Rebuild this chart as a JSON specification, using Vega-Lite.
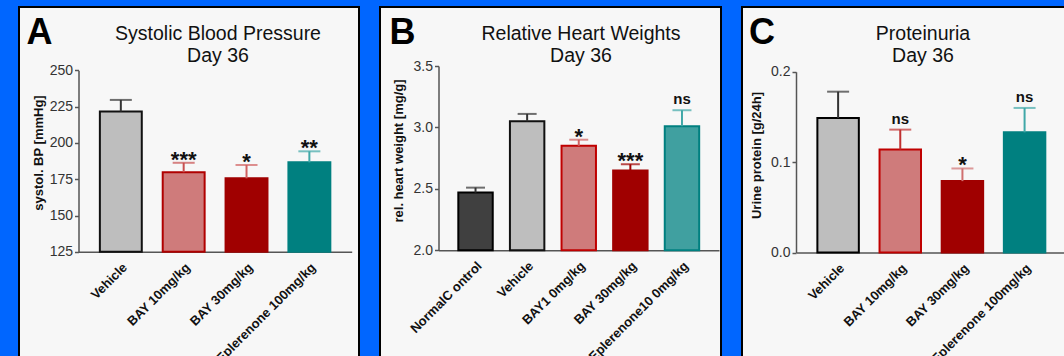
{
  "$schema": "https://vega.github.io/schema/vega-lite/v6.json",
  "background": "#0066FF",
  "padding": {"left": 18, "top": 6, "right": 0, "bottom": 0},
  "spacing": 19,
  "resolve": {"scale": {"fill": "independent", "stroke": "independent", "color": "independent"}},
  "hconcat": [
    {
      "width": 340,
      "height": 360,
      "title": {"text": ["Systolic Blood Pressure", "Day 36"], "anchor": "middle", "frame": "group", "offset": -59.7, "dx": 29, "fontSize": 19.5, "fontWeight": "normal", "lineHeight": 22.7, "color": "#111111", "font": "Liberation Sans"},
      "data": {"values": [
        {"g": "Vehicle", "v": 221.6, "e": 229.6, "sig": ""},
        {"g": "BAY 10mg/kg", "v": 179.8, "e": 186.3, "sig": "***"},
        {"g": "BAY 30mg/kg", "v": 175.6, "e": 184.8, "sig": "*"},
        {"g": "Eplerenone 100mg/kg", "v": 186.6, "e": 194.2, "sig": "**"}
      ]},
      "resolve": {"axis": {"x": "independent"}},
      "layer": [
        {
          "mark": {"type": "bar", "strokeWidth": 2},
          "encoding": {
            "x": {"field": "g", "type": "nominal", "sort": null,
              "scale": {"domain": ["Vehicle", "BAY 10mg/kg", "BAY 30mg/kg", "Eplerenone 100mg/kg"], "range": [59.5, 332.7], "paddingInner": 0.333, "paddingOuter": 0.34},
              "axis": {"title": null, "orient": "bottom", "offset": -115.2, "labelAngle": -45, "labelFontSize": 13, "labelFontWeight": "bold", "labelColor": "#111111", "ticks": false, "labelPadding": 9, "domainColor": "#555555", "domainWidth": 1.5, "labelOverlap": false}},
            "y": {"field": "v", "type": "quantitative",
              "scale": {"domain": [125, 250], "range": [244.8, 63.3], "nice": false, "zero": false},
              "axis": {"values": [125, 150, 175, 200, 225, 250], "offset": -59.5, "title": "systol. BP [mmHg]", "titleX": -33, "titleY": 145.5, "titleFontSize": 13, "titleFontWeight": "bold", "titleColor": "#111111", "labelFontSize": 14, "labelColor": "#333333", "labelPadding": 2, "tickSize": 4, "tickColor": "#555555", "tickWidth": 1.5, "domainColor": "#555555", "domainWidth": 1.5, "grid": false}},
            "y2": {"datum": 125},
            "fill": {"field": "g", "type": "nominal", "legend": null, "scale": {"domain": ["Vehicle", "BAY 10mg/kg", "BAY 30mg/kg", "Eplerenone 100mg/kg"], "range": ["#BEBEBE", "#CF7B7B", "#A00000", "#008080"]}},
            "stroke": {"field": "g", "type": "nominal", "legend": null, "scale": {"domain": ["Vehicle", "BAY 10mg/kg", "BAY 30mg/kg", "Eplerenone 100mg/kg"], "range": ["#111111", "#B00000", "#A00000", "#008080"]}}
          }
        },
        {
          "mark": {"type": "rule", "strokeWidth": 2},
          "encoding": {
            "x": {"field": "g", "type": "nominal", "sort": null,
              "axis": {"orient": "top", "labels": false, "ticks": false, "domain": false, "title": "A", "titleX": 7, "titleY": 36, "titleAlign": "left", "titleBaseline": "alphabetic", "titleAngle": 0, "titleFontSize": 36, "titleFontWeight": "bold", "titleColor": "#000000"}},
            "y": {"field": "v", "type": "quantitative"},
            "y2": {"field": "e"},
            "color": {"field": "g", "type": "nominal", "legend": null, "scale": {"domain": ["Vehicle", "BAY 10mg/kg", "BAY 30mg/kg", "Eplerenone 100mg/kg"], "range": ["#333333", "#C85050", "#D06060", "#40A8A8"]}}
          }
        },
        {
          "mark": {"type": "tick", "orient": "horizontal", "size": 22, "thickness": 2},
          "encoding": {
            "x": {"field": "g", "type": "nominal", "sort": null, "axis": null},
            "y": {"field": "e", "type": "quantitative"},
            "color": {"field": "g", "type": "nominal", "legend": null}
          }
        },
        {
          "transform": [{"filter": "indexof(datum.sig, '*') >= 0"}],
          "mark": {"type": "text", "fontSize": 22, "fontWeight": "bold", "baseline": "alphabetic", "dy": 4, "color": "#111111"},
          "encoding": {
            "x": {"field": "g", "type": "nominal", "sort": null, "axis": null},
            "y": {"field": "e", "type": "quantitative"},
            "text": {"field": "sig"}
          }
        }
      ]
    },
    {
      "width": 341,
      "height": 360,
      "title": {"text": ["Relative Heart Weights", "Day 36"], "anchor": "middle", "frame": "group", "offset": -59.7, "dx": 30.5, "fontSize": 19.5, "fontWeight": "normal", "lineHeight": 22.7, "color": "#111111", "font": "Liberation Sans"},
      "data": {"values": [
        {"g": "NormalC ontrol", "v": 2.47, "e": 2.51, "sig": ""},
        {"g": "Vehicle", "v": 3.05, "e": 3.11, "sig": ""},
        {"g": "BAY1 0mg/kg", "v": 2.85, "e": 2.90, "sig": "*"},
        {"g": "BAY 30mg/kg", "v": 2.65, "e": 2.70, "sig": "***"},
        {"g": "Eplerenone10 0mg/kg", "v": 3.01, "e": 3.14, "sig": "ns"}
      ]},
      "resolve": {"axis": {"x": "independent"}},
      "layer": [
        {
          "mark": {"type": "bar", "strokeWidth": 2},
          "encoding": {
            "x": {"field": "g", "type": "nominal", "sort": null,
              "scale": {"domain": ["NormalC ontrol", "Vehicle", "BAY1 0mg/kg", "BAY 30mg/kg", "Eplerenone10 0mg/kg"], "range": [58.5, 339], "paddingInner": 0.333, "paddingOuter": 0.384},
              "axis": {"title": null, "orient": "bottom", "offset": -116.7, "labelAngle": -45, "labelFontSize": 13, "labelFontWeight": "bold", "labelColor": "#111111", "ticks": false, "labelPadding": 9, "domainColor": "#555555", "domainWidth": 1.5, "labelOverlap": false}},
            "y": {"field": "v", "type": "quantitative",
              "scale": {"domain": [2.0, 3.5], "range": [243.3, 59], "nice": false, "zero": false},
              "axis": {"values": [2.0, 2.5, 3.0, 3.5], "format": ".1f", "offset": -58.5, "title": "rel. heart weight [mg/g]", "titleX": -33, "titleY": 143.5, "titleFontSize": 13, "titleFontWeight": "bold", "titleColor": "#111111", "labelFontSize": 14, "labelColor": "#333333", "labelPadding": 2, "tickSize": 4, "tickColor": "#555555", "tickWidth": 1.5, "domainColor": "#555555", "domainWidth": 1.5, "grid": false}},
            "y2": {"datum": 2.0},
            "fill": {"field": "g", "type": "nominal", "legend": null, "scale": {"domain": ["NormalC ontrol", "Vehicle", "BAY1 0mg/kg", "BAY 30mg/kg", "Eplerenone10 0mg/kg"], "range": ["#404040", "#BEBEBE", "#CF7B7B", "#A00000", "#40A0A0"]}},
            "stroke": {"field": "g", "type": "nominal", "legend": null, "scale": {"domain": ["NormalC ontrol", "Vehicle", "BAY1 0mg/kg", "BAY 30mg/kg", "Eplerenone10 0mg/kg"], "range": ["#000000", "#111111", "#C00000", "#A00000", "#008080"]}}
          }
        },
        {
          "mark": {"type": "rule", "strokeWidth": 2},
          "encoding": {
            "x": {"field": "g", "type": "nominal", "sort": null,
              "axis": {"orient": "top", "labels": false, "ticks": false, "domain": false, "title": "B", "titleX": 9, "titleY": 36, "titleAlign": "left", "titleBaseline": "alphabetic", "titleAngle": 0, "titleFontSize": 36, "titleFontWeight": "bold", "titleColor": "#000000"}},
            "y": {"field": "v", "type": "quantitative"},
            "y2": {"field": "e"},
            "color": {"field": "g", "type": "nominal", "legend": null, "scale": {"domain": ["NormalC ontrol", "Vehicle", "BAY1 0mg/kg", "BAY 30mg/kg", "Eplerenone10 0mg/kg"], "range": ["#333333", "#333333", "#D06060", "#A00000", "#40A8A8"]}}
          }
        },
        {
          "mark": {"type": "tick", "orient": "horizontal", "size": 19, "thickness": 2},
          "encoding": {
            "x": {"field": "g", "type": "nominal", "sort": null, "axis": null},
            "y": {"field": "e", "type": "quantitative"},
            "color": {"field": "g", "type": "nominal", "legend": null}
          }
        },
        {
          "transform": [{"filter": "indexof(datum.sig, '*') >= 0"}],
          "mark": {"type": "text", "fontSize": 22, "fontWeight": "bold", "baseline": "alphabetic", "dy": 4, "color": "#111111"},
          "encoding": {
            "x": {"field": "g", "type": "nominal", "sort": null, "axis": null},
            "y": {"field": "e", "type": "quantitative"},
            "text": {"field": "sig"}
          }
        },
        {
          "transform": [{"filter": "datum.sig == 'ns'"}],
          "mark": {"type": "text", "fontSize": 15, "fontWeight": "bold", "baseline": "alphabetic", "dy": -6, "color": "#111111"},
          "encoding": {
            "x": {"field": "g", "type": "nominal", "sort": null, "axis": null},
            "y": {"field": "e", "type": "quantitative"},
            "text": {"field": "sig"}
          }
        }
      ]
    },
    {
      "width": 340,
      "height": 360,
      "title": {"text": ["Proteinuria", "Day 36"], "anchor": "middle", "frame": "group", "offset": -59.7, "dx": 11, "fontSize": 19.5, "fontWeight": "normal", "lineHeight": 22.7, "color": "#111111", "font": "Liberation Sans"},
      "data": {"values": [
        {"g": "Vehicle", "v": 0.149, "e": 0.178, "sig": ""},
        {"g": "BAY 10mg/kg", "v": 0.114, "e": 0.136, "sig": "ns"},
        {"g": "BAY 30mg/kg", "v": 0.079, "e": 0.093, "sig": "*"},
        {"g": "Eplerenone 100mg/kg", "v": 0.133, "e": 0.160, "sig": "ns"}
      ]},
      "resolve": {"axis": {"x": "independent"}},
      "layer": [
        {
          "mark": {"type": "bar", "strokeWidth": 2},
          "encoding": {
            "x": {"field": "g", "type": "nominal", "sort": null,
              "scale": {"domain": ["Vehicle", "BAY 10mg/kg", "BAY 30mg/kg", "Eplerenone 100mg/kg"], "range": [54, 324.7], "paddingInner": 0.333, "paddingOuter": 0.344},
              "axis": {"title": null, "orient": "bottom", "offset": -114.5, "labelAngle": -45, "labelFontSize": 13, "labelFontWeight": "bold", "labelColor": "#111111", "ticks": false, "labelPadding": 9, "domainColor": "#555555", "domainWidth": 1.5, "labelOverlap": false}},
            "y": {"field": "v", "type": "quantitative",
              "scale": {"domain": [0, 0.2], "range": [245.5, 64.8], "nice": false, "zero": false},
              "axis": {"values": [0, 0.1, 0.2], "format": ".1f", "offset": -54, "title": "Urine protein [g/24h]", "titleX": -33, "titleY": 148, "titleFontSize": 13, "titleFontWeight": "bold", "titleColor": "#111111", "labelFontSize": 14, "labelColor": "#333333", "labelPadding": 2, "tickSize": 4, "tickColor": "#555555", "tickWidth": 1.5, "domainColor": "#555555", "domainWidth": 1.5, "grid": false}},
            "y2": {"datum": 0},
            "fill": {"field": "g", "type": "nominal", "legend": null, "scale": {"domain": ["Vehicle", "BAY 10mg/kg", "BAY 30mg/kg", "Eplerenone 100mg/kg"], "range": ["#BEBEBE", "#CF7B7B", "#A00000", "#008080"]}},
            "stroke": {"field": "g", "type": "nominal", "legend": null, "scale": {"domain": ["Vehicle", "BAY 10mg/kg", "BAY 30mg/kg", "Eplerenone 100mg/kg"], "range": ["#000000", "#C00000", "#A00000", "#008080"]}}
          }
        },
        {
          "mark": {"type": "rule", "strokeWidth": 2},
          "encoding": {
            "x": {"field": "g", "type": "nominal", "sort": null,
              "axis": {"orient": "top", "labels": false, "ticks": false, "domain": false, "title": "C", "titleX": 6.5, "titleY": 36, "titleAlign": "left", "titleBaseline": "alphabetic", "titleAngle": 0, "titleFontSize": 36, "titleFontWeight": "bold", "titleColor": "#000000"}},
            "y": {"field": "v", "type": "quantitative"},
            "y2": {"field": "e"},
            "color": {"field": "g", "type": "nominal", "legend": null, "scale": {"domain": ["Vehicle", "BAY 10mg/kg", "BAY 30mg/kg", "Eplerenone 100mg/kg"], "range": ["#333333", "#C03030", "#D07070", "#40A8A8"]}}
          }
        },
        {
          "mark": {"type": "tick", "orient": "horizontal", "size": 22, "thickness": 2},
          "encoding": {
            "x": {"field": "g", "type": "nominal", "sort": null, "axis": null},
            "y": {"field": "e", "type": "quantitative"},
            "color": {"field": "g", "type": "nominal", "legend": null}
          }
        },
        {
          "transform": [{"filter": "indexof(datum.sig, '*') >= 0"}],
          "mark": {"type": "text", "fontSize": 22, "fontWeight": "bold", "baseline": "alphabetic", "dy": 4, "color": "#111111"},
          "encoding": {
            "x": {"field": "g", "type": "nominal", "sort": null, "axis": null},
            "y": {"field": "e", "type": "quantitative"},
            "text": {"field": "sig"}
          }
        },
        {
          "transform": [{"filter": "datum.sig == 'ns'"}],
          "mark": {"type": "text", "fontSize": 15, "fontWeight": "bold", "baseline": "alphabetic", "dy": -6, "color": "#111111"},
          "encoding": {
            "x": {"field": "g", "type": "nominal", "sort": null, "axis": null},
            "y": {"field": "e", "type": "quantitative"},
            "text": {"field": "sig"}
          }
        }
      ]
    }
  ],
  "config": {
    "view": {"fill": "#F7F7F7", "stroke": "#000000", "strokeWidth": 2},
    "font": "Liberation Sans",
    "axis": {"labelFont": "Liberation Sans", "titleFont": "Liberation Sans", "grid": false}
  }
}
